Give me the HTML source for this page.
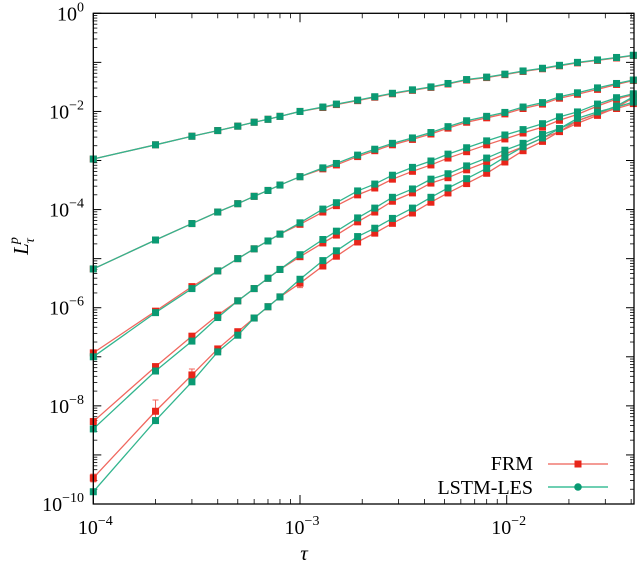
<!DOCTYPE html>
<html><head><meta charset="utf-8">
<style>
html,body{margin:0;padding:0;background:#fff;}
svg, svg text{font-family:"Liberation Serif","DejaVu Serif",serif;}
</style></head>
<body>
<svg id="chart" width="640" height="569" viewBox="0 0 640 569" xmlns="http://www.w3.org/2000/svg" font-family="Liberation Serif, serif">
<g id="grid-layer"></g>
<g id="series-layer"></g>
<rect x="93.3" y="13.3" width="540.7" height="490.7" fill="none" stroke="#000" stroke-width="1.3"/>
<text x="304" y="560" font-size="21" font-style="italic" text-anchor="middle" font-family="Liberation Serif, serif">τ</text>
<g transform="translate(28,246) rotate(-90)">
<text x="0" y="0" font-size="21" font-style="italic" text-anchor="middle" font-family="Liberation Serif, serif">L<tspan font-size="14" dy="6">τ</tspan><tspan font-size="14" dx="-6" dy="-16">p</tspan></text>
</g>
<g>
<g>
<text x="533" y="470" font-size="20" text-anchor="end" font-family="Liberation Serif, serif">FRM</text>
<line x1="548" y1="464" x2="608" y2="464" stroke="#f07a72" stroke-width="1.4"/>
<rect x="574.5" y="460.5" width="7" height="7" fill="#e8251a"/>
</g>
<g>
<text x="533" y="494" font-size="20" text-anchor="end" font-family="Liberation Serif, serif">LSTM-LES</text>
<line x1="548" y1="487" x2="608" y2="487" stroke="#3fbf99" stroke-width="1.4"/>
<circle cx="578" cy="487" r="3.8" fill="#0a9a73"/>
</g>
</g>
</svg>
<script>
// ---- data ----
const taus = [1e-4,2e-4,3e-4,4e-4,5e-4,6e-4,7e-4,8e-4,1e-3,1.29e-3,1.5e-3,1.9e-3,2.3e-3,2.8e-3,3.5e-3,4.3e-3,5.2e-3,6.4e-3,8e-3,9.8e-3,1.2e-2,1.49e-2,1.8e-2,2.2e-2,2.75e-2,3.4e-2,4.1e-2];
// log10 of L_tau^p
const lstmP1 = [-2.97,-2.68,-2.505,-2.39,-2.30,-2.22,-2.16,-2.10,-2.00,-1.91,-1.85,-1.77,-1.70,-1.63,-1.56,-1.50,-1.43,-1.35,-1.30,-1.24,-1.175,-1.12,-1.06,-1.00,-0.95,-0.90,-0.855];
const frmP1  = [-2.97,-2.68,-2.505,-2.39,-2.30,-2.22,-2.16,-2.10,-2.00,-1.92,-1.86,-1.78,-1.71,-1.64,-1.57,-1.51,-1.44,-1.36,-1.31,-1.25,-1.185,-1.13,-1.07,-1.01,-0.96,-0.91,-0.86];
const lstmP2 = [-5.21,-4.62,-4.285,-4.05,-3.88,-3.73,-3.61,-3.50,-3.33,-3.15,-3.06,-2.89,-2.77,-2.65,-2.54,-2.43,-2.31,-2.19,-2.10,-2.02,-1.91,-1.82,-1.70,-1.62,-1.52,-1.43,-1.36];
const frmP2  = [-5.21,-4.62,-4.285,-4.05,-3.88,-3.73,-3.61,-3.50,-3.33,-3.17,-3.09,-2.92,-2.80,-2.68,-2.57,-2.46,-2.34,-2.22,-2.13,-2.05,-1.94,-1.85,-1.73,-1.65,-1.55,-1.45,-1.37];
const lstmP3 = [-7.00,-6.10,-5.61,-5.25,-5.00,-4.80,-4.64,-4.50,-4.27,-3.99,-3.86,-3.62,-3.48,-3.30,-3.14,-3.01,-2.87,-2.74,-2.60,-2.48,-2.37,-2.25,-2.11,-2.01,-1.85,-1.72,-1.64];
const frmP3  = [-6.92,-6.07,-5.57,-5.25,-5.00,-4.80,-4.64,-4.50,-4.30,-4.05,-3.92,-3.70,-3.56,-3.38,-3.22,-3.09,-2.95,-2.82,-2.68,-2.56,-2.44,-2.32,-2.18,-2.06,-1.89,-1.75,-1.66];
const lstmP4 = [-8.47,-7.29,-6.68,-6.20,-5.86,-5.61,-5.40,-5.22,-4.92,-4.61,-4.44,-4.17,-3.97,-3.75,-3.58,-3.38,-3.27,-3.11,-2.95,-2.79,-2.65,-2.47,-2.35,-2.19,-2.04,-1.89,-1.70];
const frmP4  = [-8.32,-7.20,-6.58,-6.15,-5.86,-5.61,-5.40,-5.22,-4.96,-4.68,-4.52,-4.25,-4.05,-3.83,-3.66,-3.46,-3.35,-3.19,-3.03,-2.87,-2.72,-2.54,-2.41,-2.24,-2.08,-1.92,-1.72];
const lstmP5 = [-9.75,-8.30,-7.51,-6.90,-6.56,-6.21,-5.98,-5.78,-5.42,-5.04,-4.84,-4.55,-4.38,-4.18,-3.97,-3.75,-3.56,-3.37,-3.16,-2.93,-2.72,-2.54,-2.35,-2.14,-2.01,-1.91,-1.81];
const frmP5  = [-9.47,-8.11,-7.37,-6.84,-6.49,-6.21,-5.98,-5.78,-5.50,-5.15,-4.95,-4.66,-4.48,-4.28,-4.07,-3.85,-3.66,-3.47,-3.26,-3.03,-2.80,-2.61,-2.41,-2.19,-2.05,-1.94,-1.84];
const frmErr5 = [0.08,0.23,0.12,0.05,0.06,0.05,0.04,0.04,0.09,0.05,0.04,0.06,0.04,0.05,0.04,0.04,0.06,0.03,0.03,0.04,0.03,0.03,0.05,0.03,0.03,0.03,0.03];
const yTickExps = [0,-2,-4,-6,-8,-10];
const xTickExps = [-4,-3,-2];

// ---- axes ----
const X0 = 93.3, DEC_X = 206.7, Y0 = 13.3, DEC_Y = 49.07;
const PLOT_R = 634, PLOT_B = 504;
function xs(t){ return X0 + (Math.log10(t) + 4) * DEC_X; }
function ys(lg){ return Y0 - lg * DEC_Y; }

const NS = "http://www.w3.org/2000/svg";
const axes = document.getElementById('grid-layer');
const series = document.getElementById('series-layer');
function mk(tag, attrs, parent){
  const e = document.createElementNS(NS, tag);
  for (const k in attrs) e.setAttribute(k, attrs[k]);
  parent.appendChild(e); return e;
}
const FF = 'Liberation Serif, serif';

// y ticks
for (let d = 0; d >= -10; d--) {
  const y = ys(d);
  mk('line',{x1:X0,y1:y,x2:X0+8,y2:y,stroke:'#000','stroke-width':1},axes);
  mk('line',{x1:PLOT_R,y1:y,x2:PLOT_R-8,y2:y,stroke:'#000','stroke-width':1},axes);
  if (d > -10) {
    for (let m = 2; m <= 9; m++) {
      const ym = ys(d - 1 + Math.log10(m));
      mk('line',{x1:X0,y1:ym,x2:X0+4,y2:ym,stroke:'#000','stroke-width':0.8},axes);
      mk('line',{x1:PLOT_R,y1:ym,x2:PLOT_R-4,y2:ym,stroke:'#000','stroke-width':0.8},axes);
    }
  }
}
yTickExps.forEach(e => {
  const t = mk('text',{x:84,y:ys(e)+7,'font-size':20,'text-anchor':'end','font-family':FF},axes);
  
  
  t.innerHTML = '10<tspan font-size="14" dy="-9">' + (e === 0 ? '0' : '\u2212' + Math.abs(e)) + '</tspan>';
});
// x ticks
for (let d = -4; d <= -2; d++) {
  for (let m = 1; m <= 9; m++) {
    const v = m * Math.pow(10, d);
    const x = xs(v);
    if (x > PLOT_R + 0.5) continue;
    const len = m===1 ? 9 : 5;
    mk('line',{x1:x,y1:PLOT_B,x2:x,y2:PLOT_B-len,stroke:'#000','stroke-width':m===1?1:0.8},axes);
    mk('line',{x1:x,y1:Y0,x2:x,y2:Y0+len,stroke:'#000','stroke-width':m===1?1:0.8},axes);
  }
}
xTickExps.forEach(e => {
  const t = mk('text',{x:xs(Math.pow(10,e))+2,y:534,'font-size':20,'text-anchor':'middle','font-family':FF},axes);
  
  
  t.innerHTML = '10<tspan font-size="14" dy="-9">\u2212' + Math.abs(e) + '</tspan>';
});

// ---- series ----
function drawSeries(vals, lineColor, markColor, name, errs){
  const g = mk('g',{},series);
  
  
  const pts = taus.map((t,i)=> xs(t).toFixed(2)+','+ys(vals[i]).toFixed(2)).join(' ');
  const pl = mk('polyline',{points:pts,fill:'none',stroke:lineColor,'stroke-width':1.3},g);
  
  
  taus.forEach((t,i)=>{
    const x = xs(t), y = ys(vals[i]);
    if (errs) {
      const y1 = ys(vals[i]+errs[i]), y2 = ys(vals[i]-errs[i]);
      const eb = mk('path',{d:`M${x},${y1}V${y2}M${x-3},${y1}H${x+3}M${x-3},${y2}H${x+3}`,stroke:lineColor,'stroke-width':1,fill:'none'},g);
      
      
    }
    const r = mk('rect',{x:x-3.5,y:y-3.5,width:7,height:7,fill:markColor},g);
    
    
  });
}
const RED_L = '#f0675e', RED_M = '#e8251a', GRN_L = '#32b58e', GRN_M = '#0a9a73';
drawSeries(frmP1, RED_L, RED_M, 'frm-p1');
drawSeries(lstmP1, GRN_L, GRN_M, 'lstm-p1');
drawSeries(frmP2, RED_L, RED_M, 'frm-p2');
drawSeries(lstmP2, GRN_L, GRN_M, 'lstm-p2');
drawSeries(frmP3, RED_L, RED_M, 'frm-p3');
drawSeries(lstmP3, GRN_L, GRN_M, 'lstm-p3');
drawSeries(frmP4, RED_L, RED_M, 'frm-p4');
drawSeries(lstmP4, GRN_L, GRN_M, 'lstm-p4');
drawSeries(frmP5, RED_L, RED_M, 'frm-p5', frmErr5);
drawSeries(lstmP5, GRN_L, GRN_M, 'lstm-p5');
</script>
</body></html>
